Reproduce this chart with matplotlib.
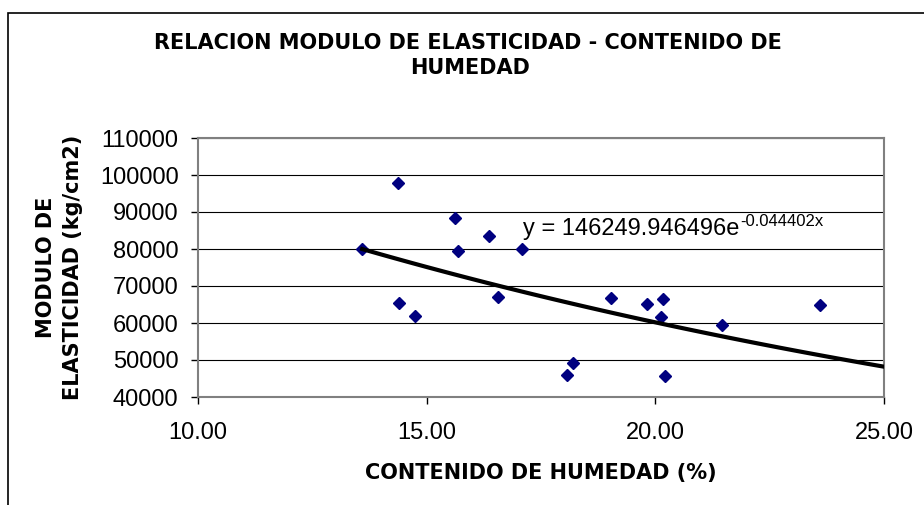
import numpy as np
import matplotlib
matplotlib.use('Agg')
import matplotlib.pyplot as plt
from matplotlib.patches import Rectangle

# data
humedad = [13.59, 14.38, 14.40, 14.74, 15.63, 15.68, 16.36, 16.56, 17.09,
           18.07, 18.19, 19.02, 19.81, 20.13, 20.16, 20.21, 21.46, 23.61]
modulo = [80000, 97800, 65400, 61900, 88400, 79500, 83500, 67000, 80000,
          45900, 49100, 66800, 65200, 61600, 66400, 45800, 59400, 64900]

# exponential trendline shown on the chart
coef_a = 146249.946496
coef_b = -0.044402

x_ticks = [10, 15, 20, 25]
y_ticks = [40000, 50000, 60000, 70000, 80000, 90000, 100000, 110000]

plt.rcParams['font.family'] = ['Liberation Sans', 'DejaVu Sans']
bold_font = ['DejaVu Sans']

fig = plt.figure(figsize=(9.24, 5.05), dpi=100)
ax = fig.add_axes([198/924, 1 - 397/505, 686/924, 259/505])

# outer chart border (only left and top are visible)
fig.add_artist(Rectangle((8/924, -0.5), 2.0, 1.5 - 13/505, transform=fig.transFigure,
                         fill=False, edgecolor='black', linewidth=1.2))

# gridlines
ax.set_axisbelow(True)
ax.yaxis.grid(True, color='black', linewidth=0.8)

# points
ax.plot(humedad, modulo, linestyle='none', marker='D', markersize=6.6,
        color='#000080', zorder=3)

# trendline from first point forward to the axis end
xt = np.linspace(min(humedad), 25, 100)
ax.plot(xt, coef_a * np.exp(coef_b * xt), color='black', linewidth=3, zorder=4)

# equation label
eq = ax.text(17.11, 83860, 'y = 146249.946496e', fontsize=17, va='baseline', ha='left')
ax.annotate('-0.044402x', xy=(1, 1), xycoords=eq, xytext=(0.5, 3),
            textcoords='offset points', fontsize=12, va='top', ha='left')

ax.set_xlim(10, 25)
ax.set_ylim(40000, 110000)
ax.set_xticks(x_ticks)
ax.set_xticklabels(['%.2f' % v for v in x_ticks])
ax.set_yticks(y_ticks)
ax.set_yticklabels([str(v) for v in y_ticks])
ax.tick_params(axis='both', labelsize=17, direction='out', length=5, width=1, color='black')
ax.tick_params(axis='x', pad=13)
ax.tick_params(axis='y', pad=9)

for s in ax.spines.values():
    s.set_color('#808080')
    s.set_linewidth(1.5)

ax.set_xlabel('CONTENIDO DE HUMEDAD (%)', fontsize=15, fontweight='bold', family=bold_font)
ax.xaxis.set_label_coords(0.5, -0.255)
ax.set_ylabel('MODULO DE\nELASTICIDAD (kg/cm2)', fontsize=15, fontweight='bold',
              family=bold_font, linespacing=1.45)
ax.yaxis.set_label_coords(-0.1676, 0.5)

fig.text(468/924, 1 - 43/505, 'RELACION MODULO DE ELASTICIDAD - CONTENIDO DE',
         fontsize=15, fontweight='bold', family=bold_font, ha='center', va='center')
fig.text(470/924, 1 - 68/505, 'HUMEDAD',
         fontsize=15, fontweight='bold', family=bold_font, ha='center', va='center')

fig.savefig('out.png', dpi=100)
